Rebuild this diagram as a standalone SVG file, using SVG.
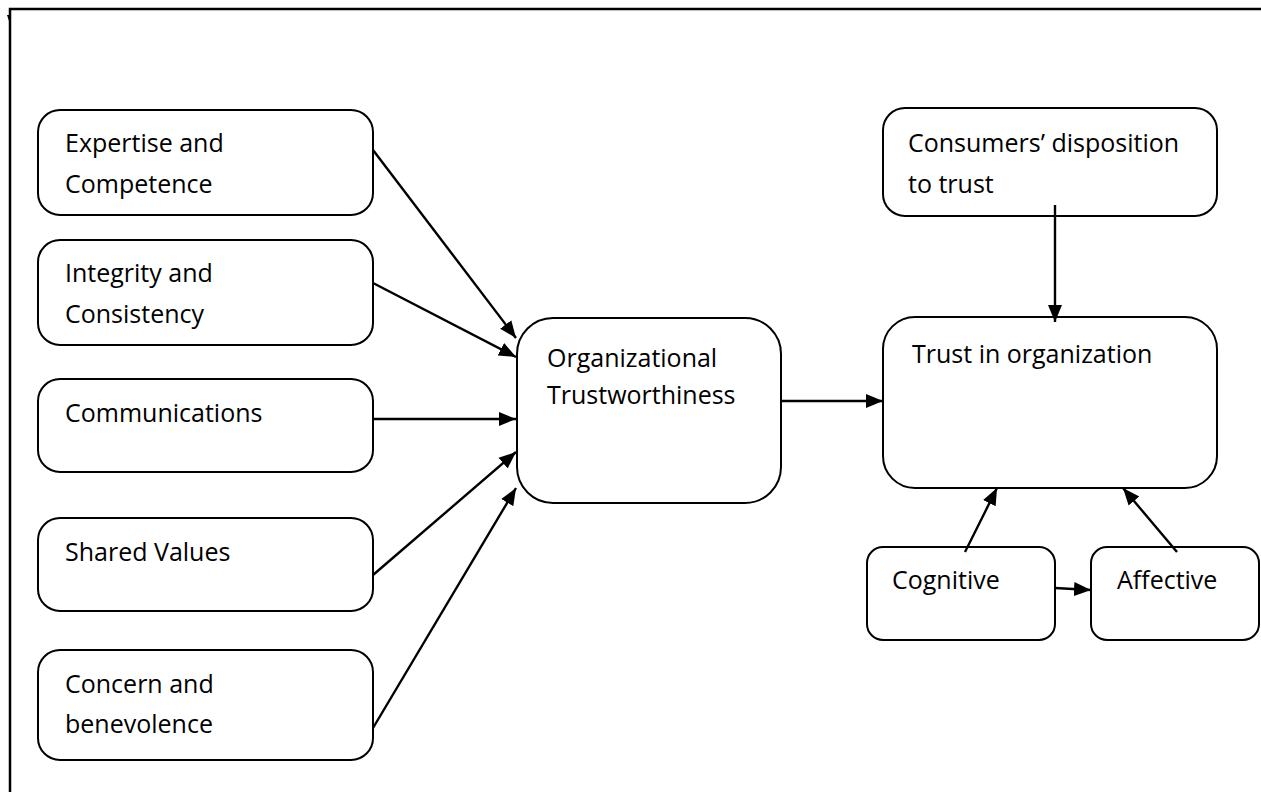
<svg xmlns="http://www.w3.org/2000/svg" width="1261" height="792" viewBox="0 0 1261 792">
<style>
.box{fill:#fff;stroke:#000;stroke-width:2}
.t{font-family:"Open Sans","Liberation Sans",sans-serif;font-size:25px;fill:#000}
.c{stroke:#000;stroke-width:2.4;fill:none;marker-end:url(#ah)}
.frame{stroke:#000;stroke-width:2.5;fill:none}
</style>
<defs>
<marker id="ah" markerUnits="userSpaceOnUse" markerWidth="19" markerHeight="16" refX="17" refY="8" orient="auto">
<path d="M0,1 L17,8 L0,15 Z" fill="#000"/>
</marker>
</defs>
<rect width="1261" height="792" fill="#fff"/>
<g id="frame">
<path class="frame" d="M10,792 V9 H1261"/>
<path d="M7,15 L10,24 L11,15 Z" fill="#000"/>
</g>
<g id="n1"><rect class="box" x="38" y="110" width="335" height="105" rx="22"/>
<text class="t" x="65" y="152">Expertise and</text><text class="t" x="65" y="193">Competence</text></g>
<g id="n2"><rect class="box" x="38" y="240" width="335" height="105" rx="22"/>
<text class="t" x="65" y="282">Integrity and</text><text class="t" x="65" y="323">Consistency</text></g>
<g id="n3"><rect class="box" x="38" y="379" width="335" height="93" rx="22"/>
<text class="t" x="65" y="422">Communications</text></g>
<g id="n4"><rect class="box" x="38" y="518" width="335" height="93" rx="22"/>
<text class="t" x="65" y="561">Shared Values</text></g>
<g id="n5"><rect class="box" x="38" y="650" width="335" height="110" rx="22"/>
<text class="t" x="65" y="693">Concern and</text><text class="t" x="65" y="733">benevolence</text></g>
<g id="ot"><rect class="box" x="517" y="318" width="264" height="185" rx="36"/>
<text class="t" x="547" y="367">Organizational</text><text class="t" x="547" y="404">Trustworthiness</text></g>
<g id="cd"><rect class="box" x="883" y="108" width="334" height="108" rx="22"/>
<text class="t" x="908" y="152">Consumers’ disposition</text><text class="t" x="908" y="193">to trust</text></g>
<g id="to"><rect class="box" x="883" y="317" width="334" height="171" rx="32"/>
<text class="t" x="912" y="363">Trust in organization</text></g>
<g id="cog"><rect class="box" x="867" y="547" width="188" height="93" rx="16"/>
<text class="t" x="892" y="589">Cognitive</text></g>
<g id="aff"><rect class="box" x="1091" y="547" width="168" height="93" rx="16"/>
<text class="t" x="1117" y="589">Affective</text></g>
<g id="connectors">
<line class="c" x1="373" y1="150" x2="516" y2="338"/>
<line class="c" x1="373" y1="283" x2="516" y2="357"/>
<line class="c" x1="373" y1="419" x2="516" y2="419"/>
<line class="c" x1="373" y1="575" x2="516" y2="452"/>
<line class="c" x1="373" y1="728" x2="516" y2="488"/>
<line class="c" x1="781" y1="401" x2="883" y2="401"/>
<line class="c" x1="1055" y1="205" x2="1055" y2="322"/>
<line class="c" x1="965" y1="552" x2="997" y2="488"/>
<line class="c" x1="1177" y1="552" x2="1123" y2="488"/>
<line class="c" x1="1055" y1="588" x2="1091" y2="590"/>
</g>
</svg>
